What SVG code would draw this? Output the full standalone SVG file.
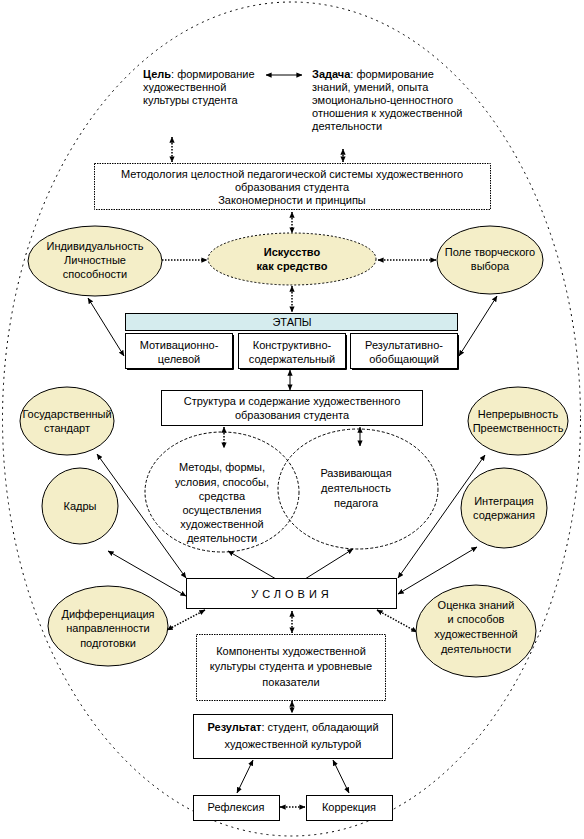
<svg xmlns="http://www.w3.org/2000/svg" width="584" height="839" viewBox="0 0 584 839">
<defs>
<marker id="ah" viewBox="0 0 8 8" refX="7.5" refY="4" markerWidth="6" markerHeight="6" markerUnits="userSpaceOnUse" orient="auto-start-reverse"><path d="M0,0.5 L8,4 L0,7.5 Z" fill="#000"/></marker>
</defs>
<style>
text{font-family:"Liberation Sans",Arial,sans-serif;font-size:11px;fill:#000}
.c{text-anchor:middle}
.b{font-weight:bold}
.box{fill:#fff;stroke:#000;stroke-width:1}
.dbox{fill:#fff;stroke:#000;stroke-width:1;stroke-dasharray:1.5,1}
.ell{fill:#f4eec8;stroke:#000;stroke-width:1}
.dell{fill:#f4eec8;stroke:#000;stroke-width:1;stroke-dasharray:2,2}
.circ{fill:none;stroke:#000;stroke-width:1;stroke-dasharray:3,2}
.s{stroke:#000;stroke-width:1;fill:none;marker-start:url(#ah);marker-end:url(#ah)}
.d{stroke:#000;stroke-width:1.5;fill:none;stroke-dasharray:1.5,1.5;marker-start:url(#ah);marker-end:url(#ah)}
.e{stroke:#000;stroke-width:1;fill:none;marker-end:url(#ah)}
.shadow{stroke:#000;stroke-width:1;fill:none}
</style>
<rect width="584" height="839" fill="#fff"/>
<ellipse id="outer" cx="291.5" cy="419" rx="289" ry="417" fill="none" stroke="#000" stroke-width="1" stroke-dasharray="2,4"/>

<g id="connectors">
<line class="s" x1="266" y1="75" x2="302" y2="75"/>
<line class="d" x1="172" y1="137" x2="172" y2="162"/>
<line class="d" x1="343" y1="149" x2="343" y2="162"/>
<line class="d" x1="292" y1="212" x2="292" y2="233"/>
<line class="d" x1="153" y1="260" x2="207" y2="260"/>
<line class="d" x1="378" y1="260" x2="436" y2="260"/>
<line class="d" x1="292" y1="286" x2="292" y2="312"/>
<line class="s" x1="88" y1="298" x2="124" y2="356"/>
<line class="s" x1="497" y1="296" x2="459" y2="356"/>
<line class="s" x1="290" y1="370" x2="290" y2="390"/>
<line class="d" x1="224" y1="427" x2="224" y2="448"/>
<line class="s" x1="360" y1="427" x2="360" y2="446"/>
<line class="s" x1="97" y1="454" x2="186" y2="578"/>
<line class="s" x1="108" y1="551" x2="186" y2="596"/>
<line class="e" x1="276" y1="579" x2="228" y2="551"/>
<line class="e" x1="305" y1="579" x2="353" y2="549"/>
<line class="s" x1="485" y1="455" x2="398" y2="578"/>
<line class="s" x1="477" y1="547" x2="398" y2="594"/>
<line class="d" x1="205" y1="610" x2="167" y2="630"/>
<line class="d" x1="377" y1="610" x2="417" y2="632"/>
<line class="d" x1="292" y1="611" x2="292" y2="633"/>
<line class="d" x1="292" y1="701" x2="292" y2="713"/>
<line class="s" x1="253" y1="760" x2="237" y2="793"/>
<line class="s" x1="333" y1="760" x2="349" y2="793"/>
<line class="d" x1="280" y1="807" x2="305" y2="807"/>
</g>

<g id="goal">
<text x="143" y="78"><tspan class="b">Цель</tspan>: формирование</text>
<text x="143" y="91">художественной</text>
<text x="143" y="104">культуры студента</text>
</g>
<g id="task">
<text x="312" y="78"><tspan class="b">Задача</tspan>: формирование</text>
<text x="312" y="91">знаний, умений, опыта</text>
<text x="312" y="104">эмоционально-ценностного</text>
<text x="312" y="117">отношения к художественной</text>
<text x="312" y="130">деятельности</text>
</g>
<g id="methodology">
<rect class="dbox" x="94.5" y="163.5" width="396" height="46"/>
<text class="c" x="292" y="178">Методология целостной педагогической системы художественного</text>
<text class="c" x="292" y="191">образования студента</text>
<text class="c" x="292" y="204">Закономерности и принципы</text>
</g>
<g id="art">
<ellipse class="dell" cx="292" cy="259" rx="84" ry="26"/>
<text class="c b" x="292" y="256">Искусство</text>
<text class="c b" x="292" y="270">как средство</text>
</g>
<g id="individ">
<ellipse class="ell" cx="95" cy="261" rx="67" ry="35"/>
<text class="c" x="95" y="250">Индивидуальность</text>
<text class="c" x="95" y="264">Личностные</text>
<text class="c" x="95" y="278">способности</text>
</g>
<g id="field">
<ellipse class="ell" cx="490" cy="260" rx="53" ry="34"/>
<text class="c" x="490" y="256">Поле творческого</text>
<text class="c" x="490" y="270">выбора</text>
</g>
<g id="stages">
<rect x="125.5" y="313.5" width="332" height="17" fill="#d5ecee" stroke="#000"/>
<text class="c" x="292" y="326">ЭТАПЫ</text>
</g>
<g id="stage1">
<rect class="box" x="125.5" y="333.5" width="107" height="35"/>
<polyline class="shadow" points="127,369.5 233.5,369.5 233.5,335"/>
<text class="c" x="179" y="349">Мотивационно-</text>
<text class="c" x="179" y="363">целевой</text>
</g>
<g id="stage2">
<rect class="box" x="238.5" y="333.5" width="107" height="35"/>
<polyline class="shadow" points="240,369.5 346.5,369.5 346.5,335"/>
<text class="c" x="292" y="349">Конструктивно-</text>
<text class="c" x="292" y="363">содержательный</text>
</g>
<g id="stage3">
<rect class="box" x="350.5" y="333.5" width="107" height="35"/>
<polyline class="shadow" points="352,369.5 458.5,369.5 458.5,335"/>
<text class="c" x="404" y="349">Результативно-</text>
<text class="c" x="404" y="363">обобщающий</text>
</g>
<g id="structure">
<rect class="box" x="161.5" y="390.5" width="261" height="35"/>
<text class="c" x="292" y="405">Структура и содержание художественного</text>
<text class="c" x="292" y="419">образования студента</text>
</g>
<g id="standard">
<ellipse class="ell" cx="67" cy="421" rx="47" ry="34"/>
<text class="c" x="67" y="418">Государственный</text>
<text class="c" x="67" y="432">стандарт</text>
</g>
<g id="continuity">
<ellipse class="ell" cx="518" cy="421" rx="50" ry="34"/>
<text class="c" x="518" y="418">Непрерывность</text>
<text class="c" x="518" y="432">Преемственность</text>
</g>
<g id="methods">
<ellipse class="circ" cx="222" cy="492" rx="77" ry="60"/>
<text class="c" x="222" y="471">Методы, формы,</text>
<text class="c" x="222" y="486">условия, способы,</text>
<text class="c" x="222" y="500">средства</text>
<text class="c" x="222" y="514">осуществления</text>
<text class="c" x="222" y="528">художественной</text>
<text class="c" x="222" y="542">деятельности</text>
</g>
<g id="developing">
<ellipse class="circ" cx="358" cy="489" rx="80" ry="60"/>
<text class="c" x="356" y="477">Развивающая</text>
<text class="c" x="356" y="492">деятельность</text>
<text class="c" x="356" y="507">педагога</text>
</g>
<g id="staff">
<ellipse class="ell" cx="80" cy="506" rx="38" ry="38"/>
<text class="c" x="80" y="510">Кадры</text>
</g>
<g id="integration">
<ellipse class="ell" cx="504" cy="508" rx="43" ry="40"/>
<text class="c" x="504" y="505">Интеграция</text>
<text class="c" x="504" y="519">содержания</text>
</g>
<g id="conditions">
<rect class="box" x="186.5" y="578.5" width="210" height="30"/>
<line x1="187" y1="608.5" x2="397" y2="608.5" stroke="#000" stroke-dasharray="3,1"/>
<text class="c" x="292" y="598" style="letter-spacing:4px">УСЛОВИЯ</text>
</g>
<g id="differentiation">
<ellipse class="ell" cx="108" cy="626" rx="60" ry="40"/>
<text class="c" x="108" y="618">Дифференциация</text>
<text class="c" x="108" y="632">направленности</text>
<text class="c" x="108" y="647">подготовки</text>
</g>
<g id="assessment">
<ellipse class="ell" cx="476" cy="631" rx="60" ry="46"/>
<text class="c" x="476" y="609">Оценка знаний</text>
<text class="c" x="476" y="623">и способов</text>
<text class="c" x="476" y="638">художественной</text>
<text class="c" x="476" y="653">деятельности</text>
</g>
<g id="components">
<rect class="dbox" x="196.5" y="634.5" width="189" height="66"/>
<text class="c" x="291" y="655">Компоненты художественной</text>
<text class="c" x="291" y="670">культуры студента и уровневые</text>
<text class="c" x="291" y="686">показатели</text>
</g>
<g id="result">
<rect class="box" x="193.5" y="714.5" width="199" height="44"/>
<text class="c" x="293" y="731"><tspan class="b">Результат</tspan>: студент, обладающий</text>
<text class="c" x="293" y="748">художественной культурой</text>
</g>
<g id="reflection">
<rect class="box" x="193.5" y="795.5" width="86" height="25"/>
<text class="c" x="236" y="811">Рефлексия</text>
</g>
<g id="correction">
<rect class="box" x="306.5" y="795.5" width="86" height="25"/>
<text class="c" x="349" y="811">Коррекция</text>
</g>
</svg>
